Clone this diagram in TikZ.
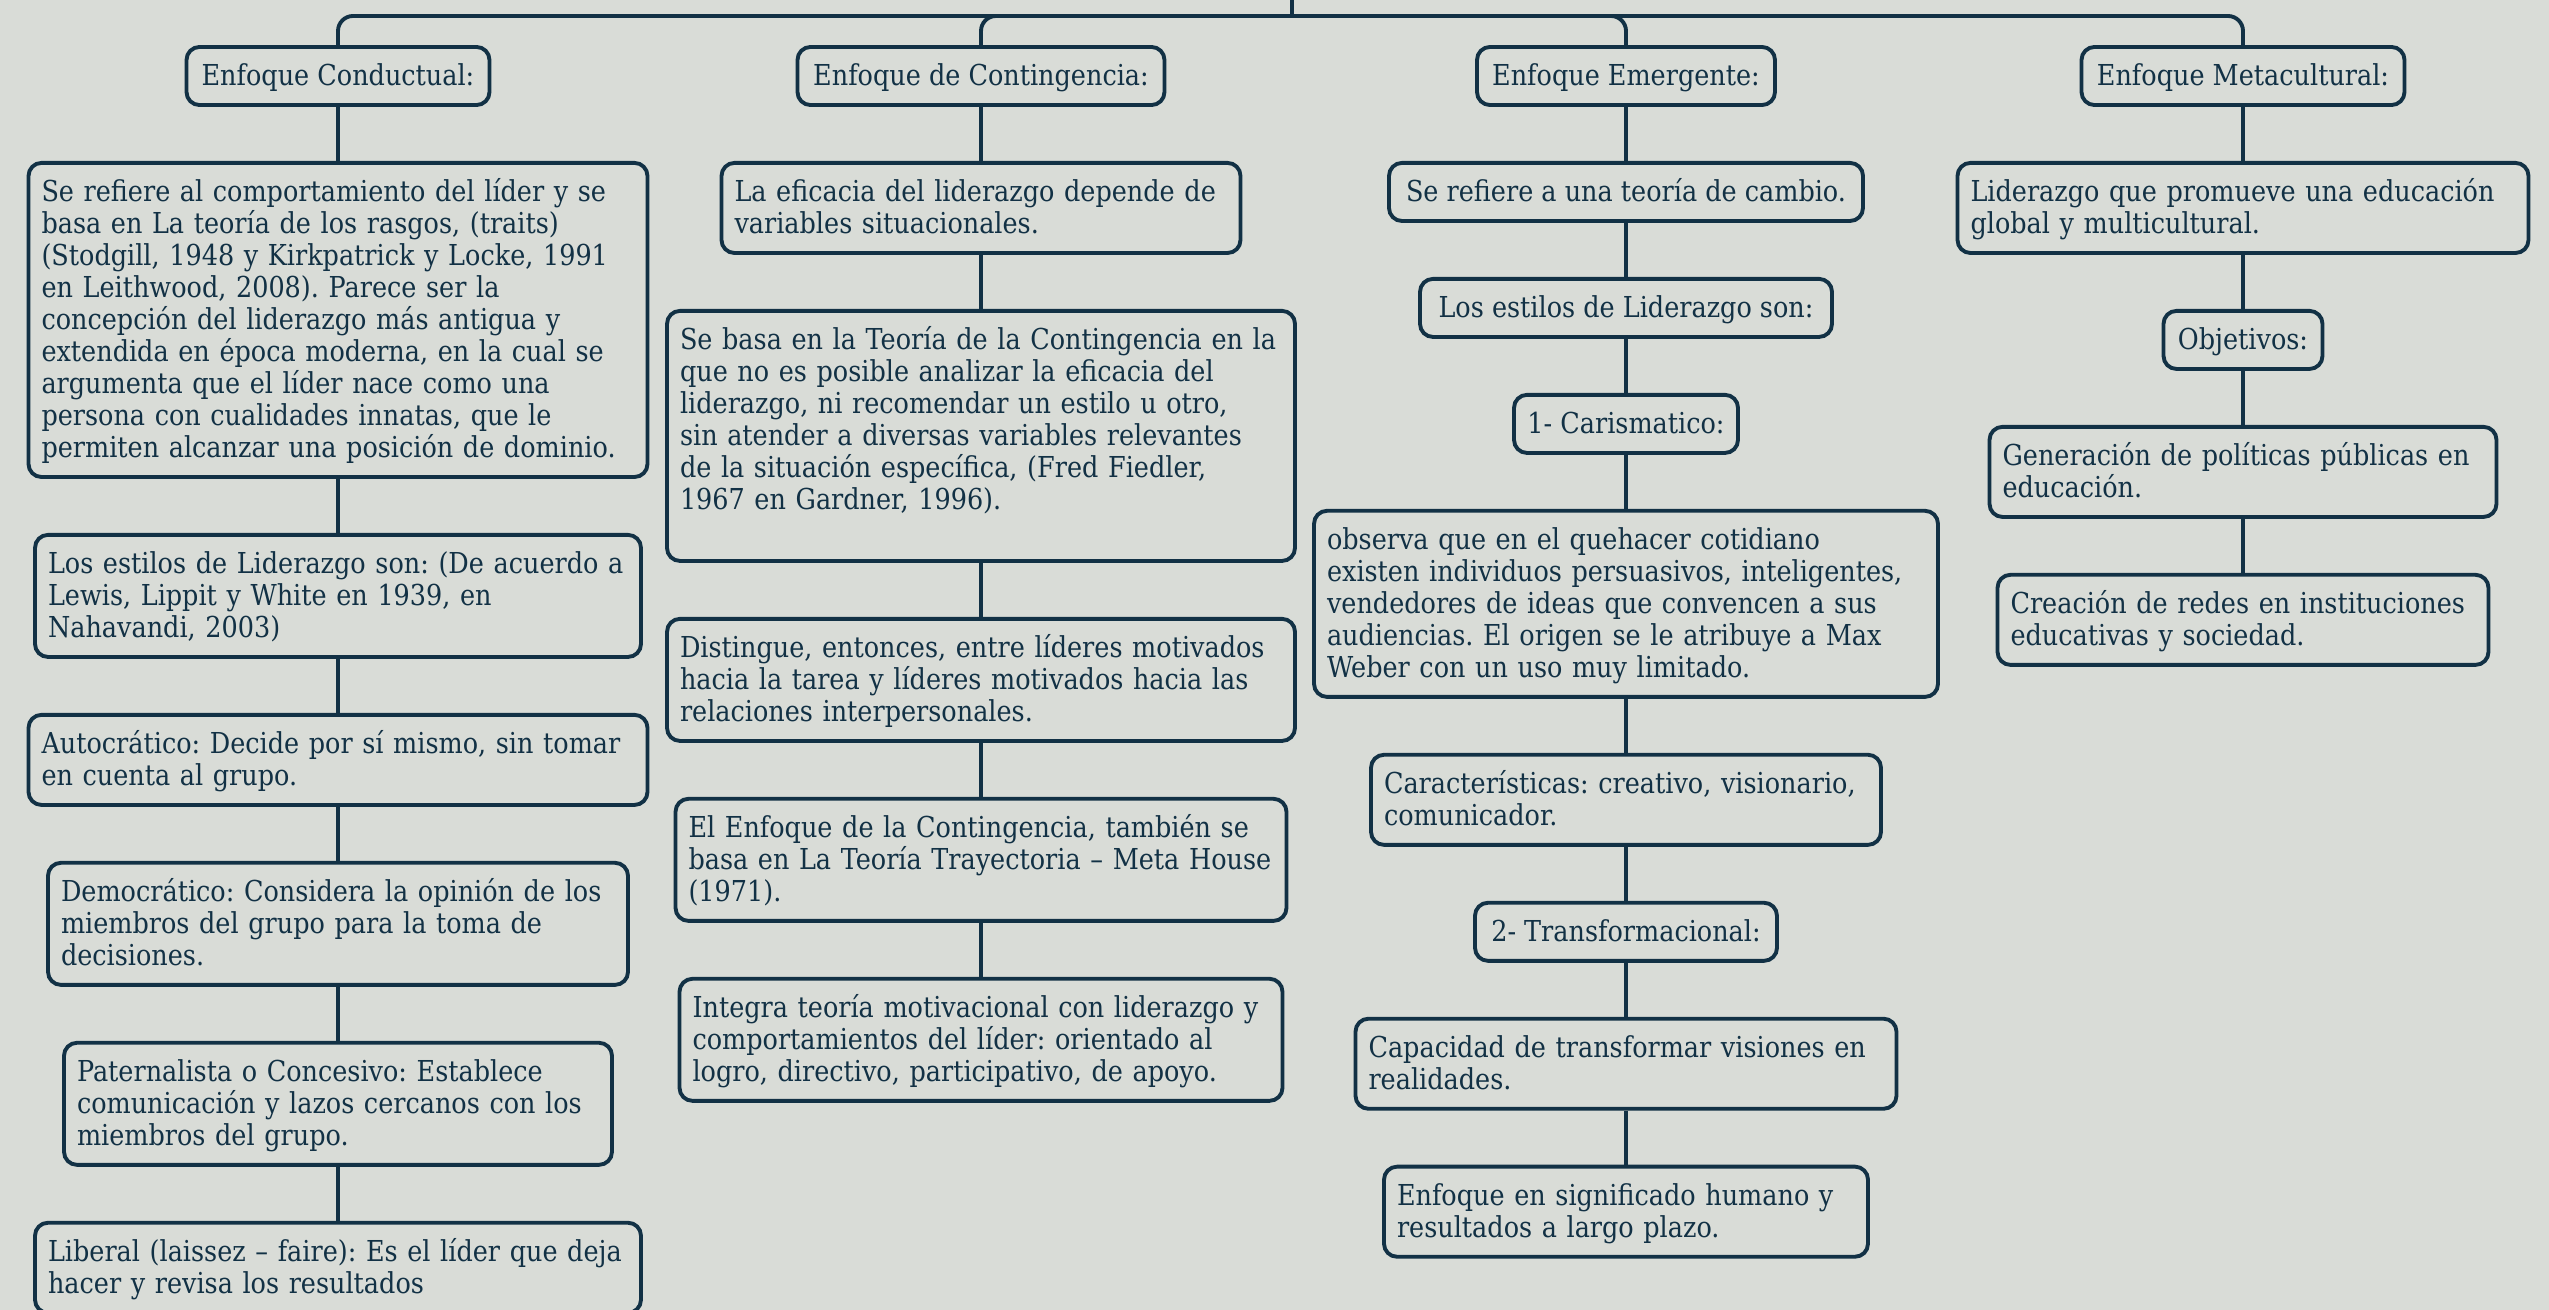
\documentclass[tikz,border=0pt]{standalone}
\usepackage{fontspec}
\setmainfont[FakeStretch=0.885]{DejaVu Serif}
\usepackage{tikz}
\usetikzlibrary{positioning}
\definecolor{ink}{HTML}{123145}
\definecolor{bg}{HTML}{D9DCD7}
\newcommand{\bxfont}{\fontsize{8.2pt}{9.13pt}\selectfont\frenchspacing\hyphenpenalty=10000}
\newcommand{\topstrut}{\rule{0pt}{7.24pt}}
\newcommand{\botstrut}{\rule[-1.89pt]{0pt}{0pt}}
\tikzstyle{bx}=[draw=ink, text=ink, fill=bg, line width=1.1pt, rounded corners=1.3mm, inner xsep=1.3mm, inner ysep=0pt, align=left, font=\bxfont, execute at begin node=\topstrut, execute at end node=\botstrut]
\tikzstyle{hd}=[bx, align=center]
\tikzstyle{l1}=[minimum height=5.81mm]
\tikzstyle{l2}=[minimum height=9.01mm]
\tikzstyle{l3}=[minimum height=12.21mm]
\tikzstyle{l5}=[minimum height=18.61mm]
\tikzstyle{l7}=[minimum height=25.01mm]
\tikzstyle{l9}=[minimum height=31.41mm]
\tikzstyle{ln}=[draw=ink, line width=1.1pt]

\begin{document}
\begin{tikzpicture}
[x=0.1mm, y=-0.1mm, node distance=5.4mm]
\useasboundingbox (0,0) rectangle (2549,1310);
\fill[bg] (0,0) rectangle (2549,1310);
\coordinate (tp) at (1292,-10);
\coordinate (rt) at (1292,16);
% conductual
\node[hd,l1,minimum width=30.3mm] (c1) at (338,76) {Enfoque Conductual:};
\node[bx,l9,text width=59.3mm] (c1a) [below=of c1] {Se refiere al comportamiento del líder y se\\basa en La teoría de los rasgos, (traits)\\(Stodgill, 1948 y Kirkpatrick y Locke, 1991\\en Leithwood, 2008). Parece ser la\\concepción del liderazgo más antigua y\\extendida en época moderna, en la cual se\\argumenta que el líder nace como una\\persona con cualidades innatas, que le\\permiten alcanzar una posición de dominio.};
\node[bx,l3,text width=58.0mm] (c1b) [below=of c1a] {Los estilos de Liderazgo son: (De acuerdo a\\Lewis, Lippit y White en 1939, en\\Nahavandi, 2003)};
\node[bx,l2,text width=59.3mm] (c1c) [below=of c1b] {Autocrático: Decide por sí mismo, sin tomar\\en cuenta al grupo.};
\node[bx,l3,text width=55.4mm] (c1d) [below=of c1c] {Democrático: Considera la opinión de los\\miembros del grupo para la toma de\\decisiones.};
\node[bx,l3,text width=52.2mm] (c1e) [below=of c1d] {Paternalista o Concesivo: Establece\\comunicación y lazos cercanos con los\\miembros del grupo.};
\node[bx,l2,text width=58.0mm] (c1f) [below=of c1e] {Liberal (laissez – faire): Es el líder que deja\\hacer y revisa los resultados};
% contingencia
\node[hd,l1,minimum width=36.7mm] (c2) at (981,76) {Enfoque de Contingencia:};
\node[bx,l2,text width=49.3mm] (c2a) [below=of c2] {La eficacia del liderazgo depende de\\variables situacionales.};
\node[bx,l7,text width=60.2mm,text depth=19.92mm] (c2b) [below=of c2a] {Se basa en la Teoría de la Contingencia en la\\que no es posible analizar la eficacia del\\liderazgo, ni recomendar un estilo u otro,\\sin atender a diversas variables relevantes\\de la situación específica, (Fred Fiedler,\\1967 en Gardner, 1996).};
\node[bx,l3,text width=60.2mm] (c2c) [below=of c2b] {Distingue, entonces, entre líderes motivados\\hacia la tarea y líderes motivados hacia las\\relaciones interpersonales.};
\node[bx,l3,text width=58.5mm] (c2d) [below=of c2c] {El Enfoque de la Contingencia, también se\\basa en La Teoría Trayectoria – Meta House\\(1971).};
\node[bx,l3,text width=57.7mm] (c2e) [below=of c2d] {Integra teoría motivacional con liderazgo y\\comportamientos del líder: orientado al\\logro, directivo, participativo, de apoyo.};
% emergente
\node[hd,l1,minimum width=29.8mm] (c3) at (1626,76) {Enfoque Emergente:};
\node[hd,l1,minimum width=47.4mm] (c3a) [below=of c3] {Se refiere a una teoría de cambio.};
\node[hd,l1,minimum width=41.2mm] (c3b) [below=of c3a] {Los estilos de Liderazgo son:};
\node[hd,l1,minimum width=22.4mm] (c3c) [below=of c3b] {1- Carismatico:};
\node[bx,l5,text width=59.8mm] (c3d) [below=of c3c] {observa que en el quehacer cotidiano\\existen individuos persuasivos, inteligentes,\\vendedores de ideas que convencen a sus\\audiencias. El origen se le atribuye a Max\\Weber con un uso muy limitado.};
\node[bx,l2,text width=48.4mm] (c3e) [below=of c3d] {Características: creativo, visionario,\\comunicador.};
\node[hd,l1,minimum width=30.2mm] (c3f) [below=of c3e] {2- Transformacional:};
\node[bx,l2,text width=51.5mm] (c3g) [below=of c3f] {Capacidad de transformar visiones en\\realidades.};
\node[bx,l2,text width=45.8mm] (c3h) [below=of c3g] {Enfoque en significado humano y\\resultados a largo plazo.};
% metacultural
\node[hd,l1,minimum width=32.3mm] (c4) at (2243,76) {Enfoque Metacultural:};
\node[bx,l2,text width=54.5mm] (c4a) [below=of c4] {Liderazgo que promueve una educación\\global y multicultural.};
\node[hd,l1,minimum width=15.9mm] (c4b) [below=of c4a] {Objetivos:};
\node[bx,l2,text width=48.1mm] (c4c) [below=of c4b] {Generación de políticas públicas en\\educación.};
\node[bx,l2,text width=46.5mm] (c4d) [below=of c4c] {Creación de redes en instituciones\\educativas y sociedad.};
% connectors
\draw[ln] (tp) -- (rt);
\draw[ln,rounded corners=1.5mm] (rt) -| (c1.north);
\draw[ln,rounded corners=1.5mm] (rt) -| (c2.north);
\draw[ln,rounded corners=1.5mm] (rt) -| (c3.north);
\draw[ln,rounded corners=1.5mm] (rt) -| (c4.north);
\path[ln]
   (c1) edge (c1a) (c1a) edge (c1b) (c1b) edge (c1c)
   (c1c) edge (c1d) (c1d) edge (c1e) (c1e) edge (c1f)
   (c2) edge (c2a) (c2a) edge (c2b) (c2b) edge (c2c)
   (c2c) edge (c2d) (c2d) edge (c2e)
   (c3) edge (c3a) (c3a) edge (c3b) (c3b) edge (c3c)
   (c3c) edge (c3d) (c3d) edge (c3e) (c3e) edge (c3f)
   (c3f) edge (c3g) (c3g) edge (c3h)
   (c4) edge (c4a) (c4a) edge (c4b) (c4b) edge (c4c)
   (c4c) edge (c4d);
\end{tikzpicture}
\end{document}
